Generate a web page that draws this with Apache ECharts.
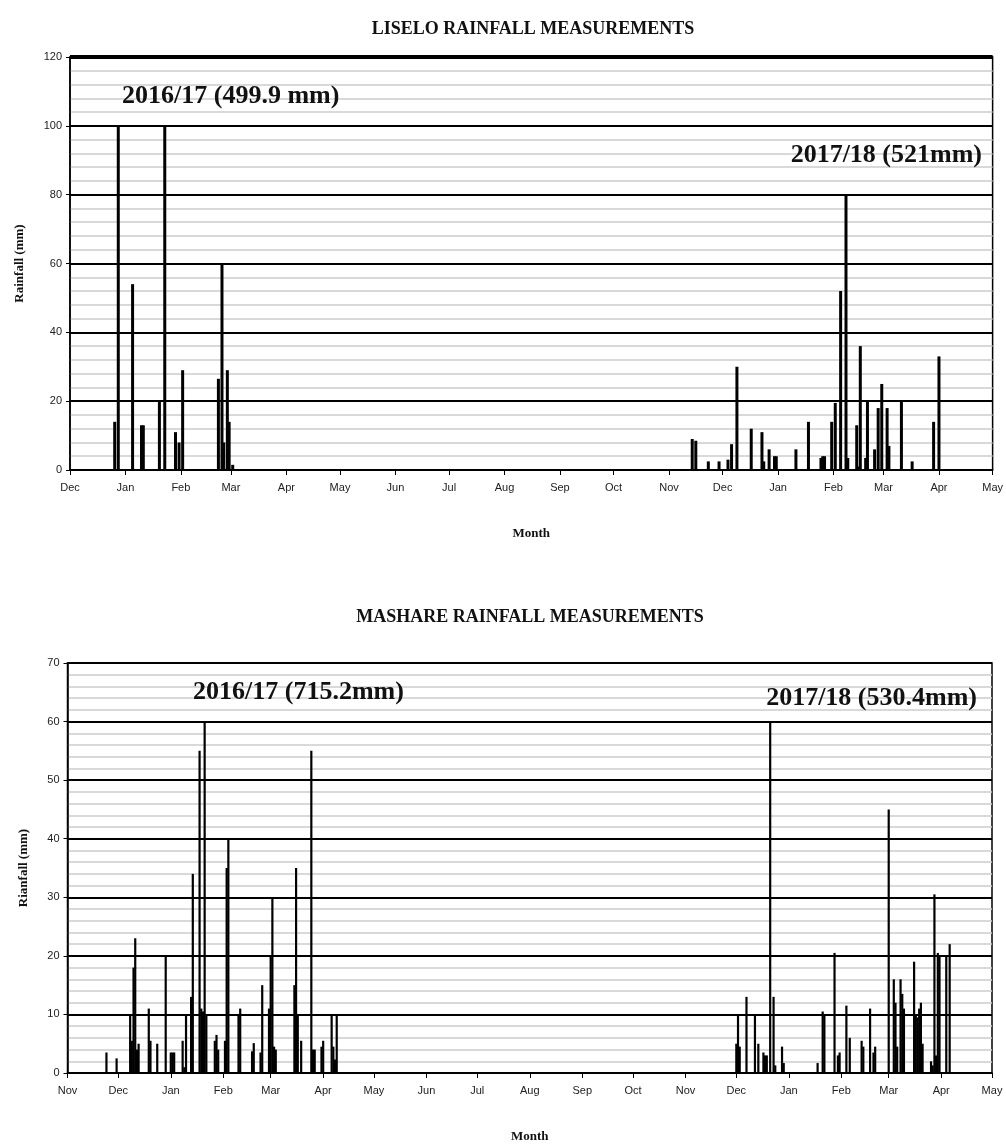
<!DOCTYPE html>
<html>
<head>
<meta charset="utf-8">
<script src="https://cdn.jsdelivr.net/npm/echarts@6/dist/echarts.min.js"></script>
<style>html,body{margin:0;padding:0;background:#fff}#c{width:1006px;height:1144px}</style>
</head>
<body>
<div id="c"></div>
<script>
const monthNames = ['Jan','Feb','Mar','Apr','May','Jun','Jul','Aug','Sep','Oct','Nov','Dec'];

// LISELO daily rainfall (mm)
const liseloDates = [
  '2016-12-26','2016-12-28','2017-01-05','2017-01-10','2017-01-11','2017-01-20','2017-01-23',
  '2017-01-29','2017-01-31','2017-02-02','2017-02-22','2017-02-24','2017-02-25','2017-02-27',
  '2017-02-28','2017-03-02',
  '2017-11-14','2017-11-16','2017-11-23','2017-11-29','2017-12-04','2017-12-06','2017-12-09',
  '2017-12-17','2017-12-23','2017-12-24','2017-12-27','2017-12-30','2017-12-31','2018-01-11',
  '2018-01-18','2018-01-25','2018-01-26','2018-01-27','2018-01-31','2018-02-02','2018-02-05',
  '2018-02-08','2018-02-09','2018-02-14','2018-02-15','2018-02-16','2018-02-19','2018-02-20',
  '2018-02-24','2018-02-26','2018-02-28','2018-03-03','2018-03-04','2018-03-11','2018-03-17',
  '2018-03-29','2018-04-01'
];
const liseloRain = [
  14,100,54,13,13,20,100,
  11,8,29,26.5,60,8,29,
  14,1.5,
  9,8.5,2.5,2.5,3,7.5,30,
  12,11,2.5,6,4,4,6,
  14,3.5,4,4,14,19.5,52,
  80,3.5,13,1,36,3.5,20,
  6,18,25,18,7,20,2.5,
  14,33
];

// MASHARE daily rainfall (mm)
const mashareDates = [
  '2016-11-24','2016-11-30','2016-12-08','2016-12-09','2016-12-10','2016-12-11','2016-12-12','2016-12-13',
  '2016-12-19','2016-12-20','2016-12-24','2016-12-29','2017-01-01','2017-01-02','2017-01-03',
  '2017-01-08','2017-01-09','2017-01-10','2017-01-13','2017-01-14','2017-01-18','2017-01-19',
  '2017-01-20','2017-01-21','2017-01-22','2017-01-27','2017-01-28','2017-01-29','2017-02-02',
  '2017-02-03','2017-02-04','2017-02-10','2017-02-11','2017-02-18','2017-02-19','2017-02-23',
  '2017-02-24','2017-02-28','2017-03-01','2017-03-02','2017-03-03','2017-03-04','2017-03-15',
  '2017-03-16','2017-03-17','2017-03-19','2017-03-25','2017-03-26','2017-03-27','2017-03-31',
  '2017-04-01','2017-04-06','2017-04-07','2017-04-08','2017-04-09',
  '2017-12-01','2017-12-02','2017-12-03','2017-12-07','2017-12-12','2017-12-14','2017-12-17',
  '2017-12-18','2017-12-19','2017-12-21','2017-12-23','2017-12-24','2017-12-28','2017-12-29',
  '2018-01-18','2018-01-21','2018-01-22','2018-01-28','2018-01-30','2018-01-31','2018-02-04',
  '2018-02-06','2018-02-13','2018-02-14','2018-02-18','2018-02-20','2018-02-21','2018-03-01',
  '2018-03-04','2018-03-05','2018-03-06','2018-03-08','2018-03-09','2018-03-10','2018-03-16',
  '2018-03-17','2018-03-18','2018-03-19','2018-03-20','2018-03-21','2018-03-26','2018-03-27',
  '2018-03-28','2018-03-29','2018-03-30','2018-03-31','2018-04-04','2018-04-06'
];
const mashareRain = [
  3.5,2.5,10,5.5,18,23,4,5,
  11,5.5,5,20,3.5,3.5,3.5,
  5.5,1,10,13,34,55,11,
  10.5,60,10,5.5,6.5,4,5.5,
  35,40,10,11,3.7,5.1,3.5,
  15,11,20,30,4.5,4,15,
  35,10,5.5,55,4,4,4.5,
  5.5,10,4.5,2.3,10,
  5,10,4.5,13,10,5,3.5,
  3,3,60,13,1.3,4.5,1.7,
  1.7,10.5,10,20.5,3,3.5,11.5,
  6,5.5,4.5,11,3.5,4.5,45,
  16,12,4.5,16,13.5,11,19,
  10,9.5,11,12,5,2,1.3,
  30.5,3,20.5,20,20,22
];

function dayRange(start, end) {
  const out = [];
  let t = Date.parse(start + 'T00:00:00Z');
  const e = Date.parse(end + 'T00:00:00Z');
  while (t <= e) { out.push(new Date(t).toISOString().slice(0, 10)); t += 86400000; }
  return out;
}
function daily(cats, dates, vals) {
  const m = {};
  dates.forEach((d, i) => { m[d] = vals[i]; });
  return cats.map(c => (c in m ? m[c] : '-'));
}

const catsTop = dayRange('2016-12-01', '2018-05-01');
const catsBot = dayRange('2016-11-01', '2018-05-01');

const isMonthStart = (idx, val) => val.slice(8) === '01';
const monthLabel = v => monthNames[parseInt(v.slice(5, 7), 10) - 1];

const serif = '"Liberation Serif", "Times New Roman", serif';
const sans = '"Liberation Sans", Arial, sans-serif';

function xAxis(gridIndex, cats, nameGap) {
  return {
    type: 'category', gridIndex, data: cats, boundaryGap: false,
    axisLine: { lineStyle: { color: '#000', width: 1.5 } },
    axisTick: { show: true, interval: isMonthStart, length: 5, lineStyle: { color: '#000', width: 1 } },
    axisLabel: { interval: isMonthStart, formatter: monthLabel, color: '#222', fontFamily: sans, fontSize: 11, margin: 12 },
    splitLine: { show: false },
    name: 'Month', nameLocation: 'middle', nameGap,
    nameTextStyle: { fontFamily: serif, fontWeight: 'bold', fontSize: 13, color: '#111' }
  };
}
function yAxis(gridIndex, max, interval, name, nameGap) {
  return {
    type: 'value', gridIndex, min: 0, max, interval,
    axisLine: { show: true, lineStyle: { color: '#000', width: 1.5 } },
    axisTick: { show: true, length: 4, lineStyle: { color: '#000' } },
    axisLabel: { color: '#222', fontFamily: sans, fontSize: 11, margin: 8 },
    splitLine: { show: true, lineStyle: { color: '#000', width: 2 } },
    minorTick: { show: false, splitNumber: 5 },
    minorSplitLine: { show: true, lineStyle: { color: '#cdcdcd', width: 1.5 } },
    name, nameLocation: 'middle', nameRotate: 90, nameGap,
    nameTextStyle: { fontFamily: serif, fontWeight: 'bold', fontSize: 13, color: '#111' }
  };
}

const chart = echarts.init(document.getElementById('c'), null, { renderer: 'canvas' });
const label = (text, x, y, size, align) => ({
  type: 'text', x, y, z: 100,
  style: { text, font: 'bold ' + size + 'px ' + serif, fill: '#111', align, verticalAlign: 'middle' }
});

chart.setOption({
  animation: false,
  backgroundColor: '#fff',
  grid: [
    { left: 70, top: 57, right: 10, height: 413, show: true, borderColor: '#000', borderWidth: 1.5, backgroundColor: 'transparent' },
    { left: 67.5, top: 663, right: 14, height: 413, show: true, borderColor: '#000', borderWidth: 1.5, backgroundColor: 'transparent' }
  ],
  xAxis: [xAxis(0, catsTop, 57), xAxis(1, catsBot, 57)],
  yAxis: [yAxis(0, 120, 20, 'Rainfall (mm)', 44), yAxis(1, 70, 10, 'Rianfall (mm)', 37)],
  graphic: [
    label('LISELO RAINFALL MEASUREMENTS', 533, 29, 18, 'center'),
    label('MASHARE RAINFALL MEASUREMENTS', 530, 617, 18, 'center'),
    label('2016/17 (499.9 mm)', 122, 96, 26, 'left'),
    label('2017/18 (521mm)', 982, 155, 26, 'right'),
    label('2016/17 (715.2mm)', 193, 692, 26, 'left'),
    label('2017/18 (530.4mm)', 977, 698, 26, 'right')
  ],
  series: [
    {
      type: 'bar', xAxisIndex: 0, yAxisIndex: 0, barWidth: 3,
      data: daily(catsTop, liseloDates, liseloRain),
      itemStyle: { color: '#000' },
      markLine: { silent: true, symbol: 'none', label: { show: false }, lineStyle: { color: '#000', width: 4, type: 'solid' }, data: [{ yAxis: 120 }] }
    },
    {
      type: 'bar', xAxisIndex: 1, yAxisIndex: 1, barWidth: 2.2,
      data: daily(catsBot, mashareDates, mashareRain),
      itemStyle: { color: '#000' }
    }
  ]
});
</script>
</body>
</html>
